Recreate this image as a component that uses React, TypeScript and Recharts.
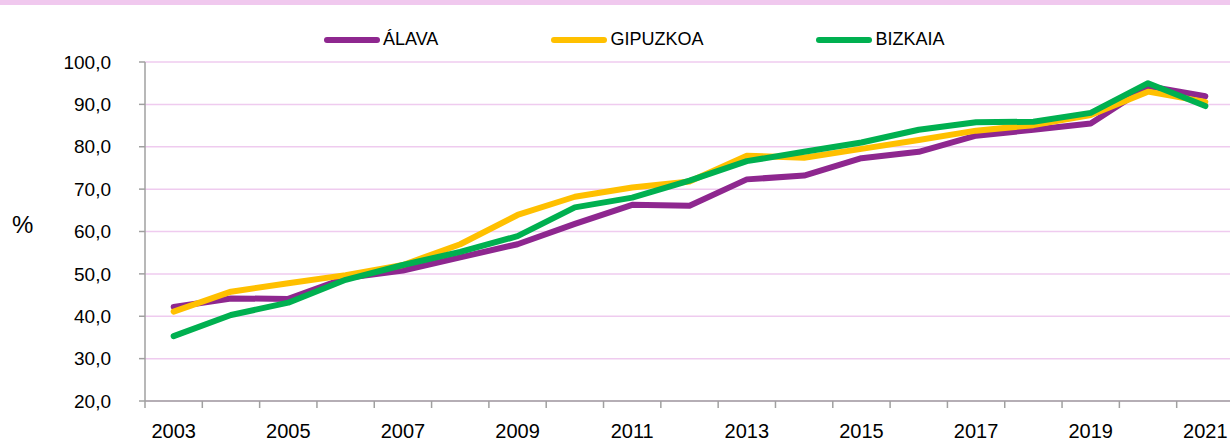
import { LineChart, Line, XAxis, YAxis, CartesianGrid, Legend, Label } from 'recharts'

const years = [
  '2003', '2004', '2005', '2006', '2007', '2008', '2009', '2010', '2011', '2012',
  '2013', '2014', '2015', '2016', '2017', '2018', '2019', '2020', '2021',
]
const alava = [42.2, 44.2, 44.1, 49.0, 50.8, 53.9, 57.0, 61.8, 66.3, 66.1, 72.3, 73.2, 77.3, 78.8, 82.6, 84.0, 85.5, 94.3, 91.9]
const gipuzkoa = [41.1, 45.8, 47.8, 49.7, 52.1, 57.0, 63.9, 68.2, 70.4, 71.8, 77.9, 77.4, 79.5, 81.6, 83.8, 85.1, 87.5, 93.0, 90.6]
const bizkaia = [35.3, 40.3, 43.2, 48.6, 52.1, 55.2, 58.9, 65.7, 68.0, 72.0, 76.6, 78.8, 81.0, 84.0, 85.8, 85.9, 88.0, 95.0, 89.6]
const yTicks = [20, 30, 40, 50, 60, 70, 80, 90, 100]

const series = [
  { key: 'alava', name: 'ÁLAVA', color: '#8E278F' },
  { key: 'gipuzkoa', name: 'GIPUZKOA', color: '#FFC000' },
  { key: 'bizkaia', name: 'BIZKAIA', color: '#00B050' },
]

const data = years.map((year, i) => ({
  year,
  alava: alava[i],
  gipuzkoa: gipuzkoa[i],
  bizkaia: bizkaia[i],
}))

const FONT = '"Liberation Sans", Arial, sans-serif'
const AXIS = '#a0a0a0'
const CHART_W = 1240
const CHART_H = 441
const MARGIN = { top: 62, right: 6, bottom: 0, left: 0 }
const Y_W = 145
const X_H = 40
const PLOT_W = CHART_W - MARGIN.left - MARGIN.right - Y_W
const STEP = PLOT_W / years.length

function XTick(props: any) {
  const { x, y, index, payload } = props
  const left = x - STEP / 2
  return (
    <g>
      <line x1={left} x2={left} y1={y} y2={y + 7} stroke={AXIS} strokeWidth={1.5} />
      {index === years.length - 1 && (
        <line x1={x + STEP / 2} x2={x + STEP / 2} y1={y} y2={y + 7} stroke={AXIS} strokeWidth={1.5} />
      )}
      {index % 2 === 0 && (
        <text x={x} y={y + 37} textAnchor="middle" fontSize={20} fontFamily={FONT} fill="#000">
          {payload.value}
        </text>
      )}
    </g>
  )
}

function LegendContent() {
  return (
    <div style={{ display: 'flex', gap: 112, fontFamily: FONT, fontSize: 18, color: '#000', whiteSpace: 'nowrap' }}>
      {series.map((s) => (
        <div key={s.key} style={{ display: 'flex', alignItems: 'center' }}>
          <svg width={58} height={10} style={{ marginRight: 2 }}>
            <line x1={4} x2={54} y1={5} y2={5} stroke={s.color} strokeWidth={6} strokeLinecap="round" />
          </svg>
          <span>{s.name}</span>
        </div>
      ))}
    </div>
  )
}

export default function App() {
  return (
    <div style={{ position: 'absolute', left: 0, top: 0, width: 1230, height: 441, overflow: 'hidden', background: '#fff' }}>
      <div style={{ position: 'absolute', left: 0, top: 0, width: 1230, height: 5, background: '#f0c8ee' }} />
      <LineChart width={CHART_W} height={CHART_H} data={data} margin={MARGIN}>
        <CartesianGrid vertical={false} stroke="#efcbef" strokeWidth={1.5} />
        <XAxis
          dataKey="year"
          height={X_H}
          interval={0}
          padding={{ left: STEP / 2, right: STEP / 2 }}
          tickLine={false}
          tickSize={0}
          tickMargin={0}
          axisLine={{ stroke: AXIS, strokeWidth: 1.5 }}
          tick={<XTick />}
        />
        <YAxis
          width={Y_W}
          domain={[20, 100]}
          ticks={yTicks}
          interval={0}
          tickSize={6}
          tickMargin={28}
          axisLine={{ stroke: AXIS, strokeWidth: 1.5 }}
          tickLine={{ stroke: AXIS, strokeWidth: 1.5 }}
          tick={{ fontSize: 19, fontFamily: FONT, fill: '#000' }}
          tickFormatter={(v: number) => v.toFixed(1).replace('.', ',')}
        >
          <Label
            content={({ viewBox }: any) => (
              <text x={12} y={viewBox.y + viewBox.height / 2 + 1} fontSize={24} fontFamily={FONT} fill="#000">
                %
              </text>
            )}
          />
        </YAxis>
        <Legend
          verticalAlign="middle"
          layout="horizontal"
          content={<LegendContent />}
          wrapperStyle={{ top: 29, left: 323, width: 'auto', height: 'auto' }}
        />
        {series.map((s) => (
          <Line
            key={s.key}
            type="linear"
            dataKey={s.key}
            name={s.name}
            stroke={s.color}
            strokeWidth={6}
            strokeLinecap="round"
            strokeLinejoin="round"
            dot={false}
            activeDot={false}
            isAnimationActive={false}
          />
        ))}
      </LineChart>
    </div>
  )
}
